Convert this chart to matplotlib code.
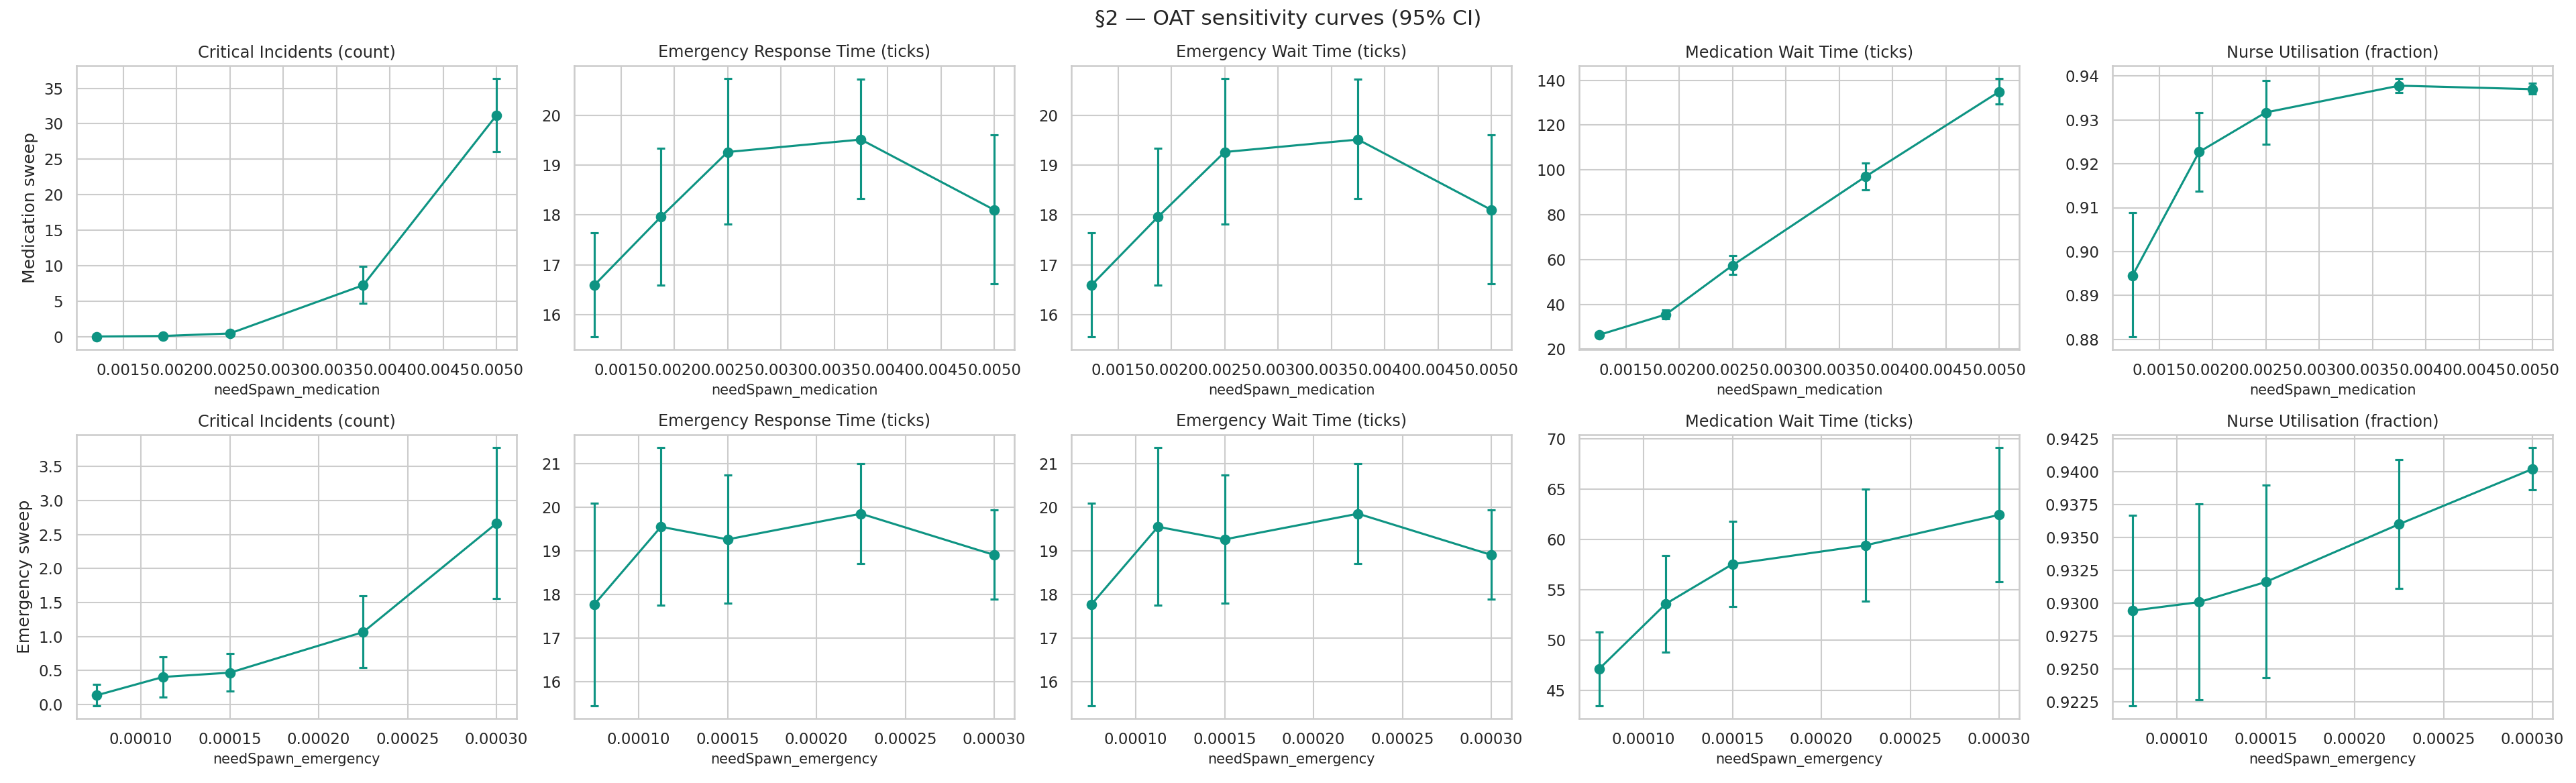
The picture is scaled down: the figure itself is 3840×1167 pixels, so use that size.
import matplotlib
matplotlib.use("Agg")
import matplotlib.pyplot as plt
import seaborn as sns

# sweep x values
med_x = [0.00125, 0.001875, 0.0025, 0.00375, 0.005]
emg_x = [0.000075, 0.0001125, 0.00015, 0.000225, 0.0003]

titles = ["Critical Incidents (count)", "Emergency Response Time (ticks)",
          "Emergency Wait Time (ticks)", "Medication Wait Time (ticks)",
          "Nurse Utilisation (fraction)"]

# medication sweep: mean, ci low, ci high
med_crit = [0.02, 0.1, 0.45, 7.25, 31.2]
med_crit_lo = [0.0, 0.0, 0.2, 4.68, 26.1]
med_crit_hi = [0.05, 0.2, 0.7, 9.9, 36.35]

med_resp = [16.59, 17.96, 19.26, 19.51, 18.10]
med_resp_lo = [15.56, 16.59, 17.81, 18.33, 16.62]
med_resp_hi = [17.64, 19.33, 20.73, 20.72, 19.60]

med_ewait = [16.59, 17.96, 19.26, 19.51, 18.10]
med_ewait_lo = [15.56, 16.59, 17.81, 18.33, 16.62]
med_ewait_hi = [17.64, 19.33, 20.73, 20.72, 19.60]

med_mwait = [26.4, 35.5, 57.4, 97.1, 134.9]
med_mwait_lo = [25.6, 33.6, 53.3, 91.2, 129.4]
med_mwait_hi = [27.4, 37.5, 61.8, 103.1, 140.7]

med_util = [0.8945, 0.9227, 0.9317, 0.9378, 0.9370]
med_util_lo = [0.8806, 0.9138, 0.9244, 0.9363, 0.9359]
med_util_hi = [0.9088, 0.9316, 0.9390, 0.9394, 0.9384]

# emergency sweep
emg_crit = [0.133, 0.404, 0.467, 1.064, 2.666]
emg_crit_lo = [-0.019, 0.111, 0.193, 0.541, 1.561]
emg_crit_hi = [0.297, 0.697, 0.749, 1.602, 3.778]

emg_resp = [17.77, 19.555, 19.266, 19.855, 18.908]
emg_resp_lo = [15.45, 17.75, 17.80, 18.717, 17.89]
emg_resp_hi = [20.09, 21.37, 20.74, 21.006, 19.943]

emg_ewait = [17.77, 19.555, 19.266, 19.855, 18.908]
emg_ewait_lo = [15.45, 17.75, 17.80, 18.717, 17.89]
emg_ewait_hi = [20.09, 21.37, 20.74, 21.006, 19.943]

emg_mwait = [47.15, 53.62, 57.56, 59.44, 62.46]
emg_mwait_lo = [43.5, 48.82, 53.34, 53.87, 55.84]
emg_mwait_hi = [50.82, 58.41, 61.81, 65.0, 69.13]

emg_util = [0.92943, 0.93008, 0.93161, 0.9360, 0.94019]
emg_util_lo = [0.92221, 0.92267, 0.92436, 0.93113, 0.93861]
emg_util_hi = [0.93667, 0.93753, 0.93896, 0.9409, 0.94181]

rows = [
    ("Medication sweep", "needSpawn_medication", med_x,
     [(med_crit, med_crit_lo, med_crit_hi), (med_resp, med_resp_lo, med_resp_hi),
      (med_ewait, med_ewait_lo, med_ewait_hi), (med_mwait, med_mwait_lo, med_mwait_hi),
      (med_util, med_util_lo, med_util_hi)]),
    ("Emergency sweep", "needSpawn_emergency", emg_x,
     [(emg_crit, emg_crit_lo, emg_crit_hi), (emg_resp, emg_resp_lo, emg_resp_hi),
      (emg_ewait, emg_ewait_lo, emg_ewait_hi), (emg_mwait, emg_mwait_lo, emg_mwait_hi),
      (emg_util, emg_util_lo, emg_util_hi)]),
]

sns.set_theme(style="whitegrid")
color = "#0e9483"

W, H = 3840, 1167
fig = plt.figure(figsize=(W / 150, H / 150), dpi=150)

# axes placement in pixels
lefts = [114, 856, 1597, 2354, 3149]
tops = [98, 648]
aw, ah = 656, 423

for r, (rowlab, xlab, xs, series) in enumerate(rows):
    for c, (mean, lo, hi) in enumerate(series):
        ax = fig.add_axes([lefts[c] / W, 1 - (tops[r] + ah) / H, aw / W, ah / H])
        yerr = [[m - l for m, l in zip(mean, lo)], [h - m for m, h in zip(mean, hi)]]
        ax.errorbar(xs, mean, yerr=yerr, fmt="-o", color=color, capsize=3,
                    markersize=6.5, linewidth=1.5, elinewidth=1.5, capthick=1.5)
        ax.set_title(titles[c], fontsize=11.5)
        ax.set_xlabel(xlab, fontsize=10)
        ax.tick_params(labelsize=11)
        if c == 0:
            ax.set_ylabel(rowlab, fontsize=12)

fig.suptitle("§2 — OAT sensitivity curves (95% CI)", fontsize=15, y=0.988)
fig.savefig("out.png", dpi=150)
